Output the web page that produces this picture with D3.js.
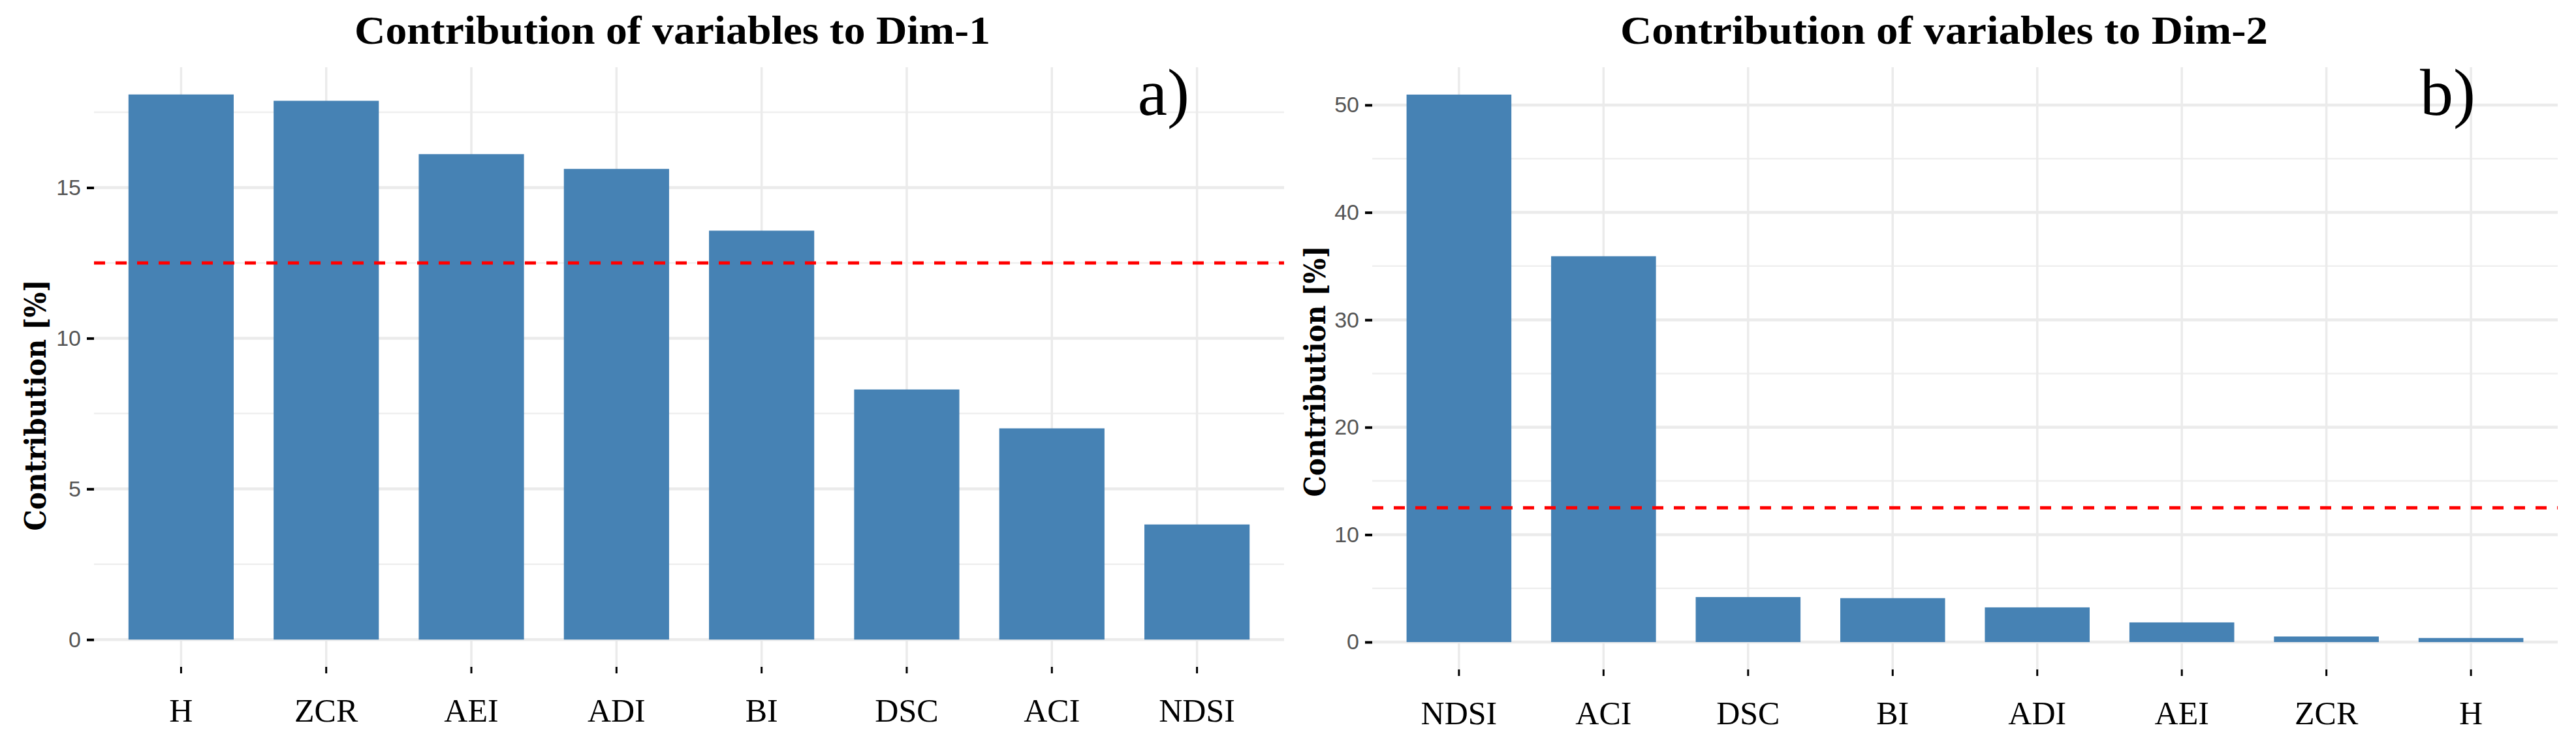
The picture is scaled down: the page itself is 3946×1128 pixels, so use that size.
<!DOCTYPE html>
<html>
<head>
<meta charset="utf-8">
<script src="https://cdn.jsdelivr.net/npm/d3@7"></script>
<style>
  html, body { margin: 0; padding: 0; background: #fff; }
  svg { display: block; }
</style>
</head>
<body>
<svg id="chart" width="3946" height="1128"></svg>
<script>
// values
const dim1Categories = [`H`, `ZCR`, `AEI`, `ADI`, `BI`, `DSC`, `ACI`, `NDSI`];
const dim1Values = [18.09, 17.88, 16.11, 15.62, 13.57, 8.30, 7.01, 3.82];
const dim1Ticks = [0, 5, 10, 15];

const dim2Categories = [`NDSI`, `ACI`, `DSC`, `BI`, `ADI`, `AEI`, `ZCR`, `H`];
const dim2Values = [50.97, 35.92, 4.19, 4.09, 3.23, 1.83, 0.52, 0.38];
const dim2Ticks = [0, 10, 20, 30, 40, 50];

const threshold = 12.5; // 100 / number of variables
const yTitle = `Contribution [%]`;

const svg = d3.select(`#chart`);
svg.append(`rect`).attr(`width`, 3946).attr(`height`, 1128).attr(`fill`, `#fff`);

const drawPanel = (cats, vals, ticks, opt) => {
  const g = svg.append(`g`);

  const x = d3.scaleBand()
    .domain(cats)
    .range([opt.x0, opt.x1])
    .paddingInner(0.275)
    .paddingOuter(0.2375);

  // ggplot style 5% expansion on both ends
  const maxV = d3.max(vals);
  const pad = maxV * 0.05;
  const y = d3.scaleLinear()
    .domain([-pad, maxV + pad])
    .range([opt.yBot, opt.yTop]);

  // minor grid halfway between major ticks
  const step = ticks[1] - ticks[0];
  const minor = ticks.map(t => t + step / 2).filter(t => t < maxV + pad);

  g.append(`g`).selectAll(`line`)
    .data(minor)
    .enter().append(`line`)
      .attr(`x1`, opt.x0).attr(`x2`, opt.x1)
      .attr(`y1`, d => y(d)).attr(`y2`, d => y(d))
      .style(`stroke`, `#efefef`)
      .style(`stroke-width`, 2.5);

  g.append(`g`).selectAll(`line`)
    .data(ticks)
    .enter().append(`line`)
      .attr(`x1`, opt.x0).attr(`x2`, opt.x1)
      .attr(`y1`, d => y(d)).attr(`y2`, d => y(d))
      .style(`stroke`, `#ebebeb`)
      .style(`stroke-width`, 4.5);

  g.append(`g`).selectAll(`line`)
    .data(cats)
    .enter().append(`line`)
      .attr(`x1`, d => x(d) + x.bandwidth() / 2).attr(`x2`, d => x(d) + x.bandwidth() / 2)
      .attr(`y1`, opt.yTop).attr(`y2`, opt.yBot)
      .style(`stroke`, `#ebebeb`)
      .style(`stroke-width`, 3.5);

  g.append(`g`).selectAll(`rect`)
    .data(cats)
    .enter().append(`rect`)
      .attr(`x`, d => x(d))
      .attr(`width`, x.bandwidth())
      .attr(`y`, (d, i) => y(vals[i]))
      .attr(`height`, (d, i) => y(0) - y(vals[i]))
      .style(`fill`, `#4682b4`);

  g.append(`line`)
    .attr(`x1`, opt.x0).attr(`x2`, opt.x1)
    .attr(`y1`, y(threshold)).attr(`y2`, y(threshold))
    .style(`stroke`, `#ff0000`)
    .style(`stroke-width`, 5)
    .style(`stroke-dasharray`, `17 16`);

  const yAxis = g.append(`g`)
    .attr(`transform`, `translate(${opt.x0},0)`)
    .call(d3.axisLeft(y).tickValues(ticks).tickSize(11).tickPadding(9));
  yAxis.select(`.domain`).remove();
  yAxis.selectAll(`line`).style(`stroke`, `#000`).style(`stroke-width`, 4);
  yAxis.selectAll(`text`)
    .style(`font-family`, `"Liberation Sans", Arial, sans-serif`)
    .style(`font-size`, `34px`)
    .style(`fill`, `#555`);

  const xAxis = g.append(`g`)
    .attr(`transform`, `translate(0,${opt.yBot})`)
    .call(d3.axisBottom(x).tickSize(10).tickPadding(38));
  xAxis.select(`.domain`).remove();
  xAxis.selectAll(`line`).style(`stroke`, `#000`).style(`stroke-width`, 3);
  xAxis.selectAll(`text`)
    .style(`font-family`, `"Liberation Serif", "Times New Roman", serif`)
    .style(`font-size`, `50px`)
    .style(`fill`, `#000`);

  g.append(`text`)
    .attr(`x`, opt.titleX).attr(`y`, 67)
    .attr(`text-anchor`, `middle`)
    .attr(`textLength`, opt.titleLen)
    .attr(`lengthAdjust`, `spacingAndGlyphs`)
    .style(`font-family`, `"Liberation Serif", serif`)
    .style(`font-weight`, `bold`)
    .style(`font-size`, `61px`)
    .text(opt.title);

  g.append(`text`)
    .attr(`transform`, `translate(${opt.yTitleX},${opt.yTitleY}) rotate(-90)`)
    .attr(`text-anchor`, `middle`)
    .attr(`textLength`, 385)
    .attr(`lengthAdjust`, `spacingAndGlyphs`)
    .style(`font-family`, `"DejaVu Serif", serif`)
    .style(`font-weight`, `bold`)
    .style(`font-size`, `44px`)
    .text(yTitle);

  g.append(`text`)
    .attr(`x`, opt.tagX).attr(`y`, 176)
    .attr(`text-anchor`, `end`)
    .style(`font-family`, `"Liberation Serif", serif`)
    .style(`font-size`, `102px`)
    .text(opt.tag);
};

drawPanel(dim1Categories, dim1Values, dim1Ticks, {
  x0: 144, x1: 1967, yTop: 103, yBot: 1022,
  title: `Contribution of variables to Dim-1`, titleX: 1030, titleLen: 974,
  yTitleX: 70, yTitleY: 621, tag: `a)`, tagX: 1822
});

drawPanel(dim2Categories, dim2Values, dim2Ticks, {
  x0: 2102, x1: 3918, yTop: 103, yBot: 1026,
  title: `Contribution of variables to Dim-2`, titleX: 2978, titleLen: 992,
  yTitleX: 2030, yTitleY: 569, tag: `b)`, tagX: 3792
});
</script>
</body>
</html>
